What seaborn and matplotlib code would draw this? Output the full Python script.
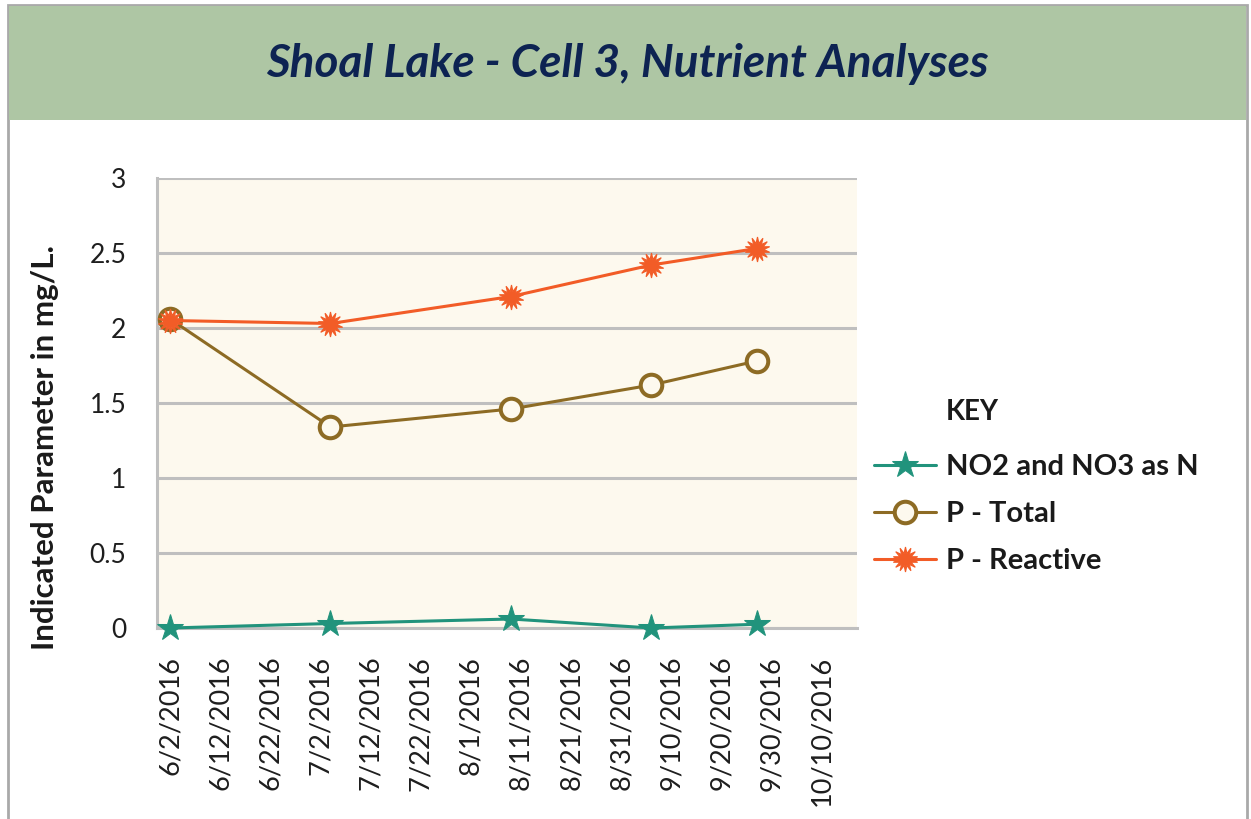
import pandas as pd
import matplotlib
matplotlib.use("Agg")
import matplotlib.pyplot as plt
from matplotlib.patches import Rectangle
import seaborn as sns

# sample dates and values (mg/L)
sample_dates = ["2016-06-02", "2016-07-04", "2016-08-09", "2016-09-06", "2016-09-27"]
no2_no3 = [0.0, 0.03, 0.06, 0.0, 0.025]
p_total = [2.06, 1.34, 1.46, 1.62, 1.78]
p_reactive = [2.05, 2.03, 2.21, 2.42, 2.53]

series_names = ["NO2 and NO3 as N", "P - Total", "P - Reactive"]
y_ticks = [0, 0.5, 1, 1.5, 2, 2.5, 3]
y_tick_labels = ["0", "0.5", "1", "1.5", "2", "2.5", "3"]
tick_start = "2016-06-02"
tick_count = 14
tick_step_days = 10

title = "Shoal Lake - Cell 3, Nutrient Analyses"
y_label = "Indicated Parameter in mg/L."

sns.set_style("white")
plt.rcParams["font.family"] = ["Lato", "DejaVu Sans"]

W, H = 1251, 819
fig = plt.figure(figsize=(W / 100, H / 100), dpi=100)

# outer frame + green title band
fig.patches.append(Rectangle((8 / W, -0.05), (1247 - 8) / W, 1.05 - 5 / H,
                             transform=fig.transFigure, fill=False,
                             edgecolor="#a9a9a9", lw=2, zorder=0))
fig.patches.append(Rectangle((9 / W, 1 - 120 / H), (1246 - 9) / W, (120 - 6) / H,
                             transform=fig.transFigure, facecolor="#aec6a4",
                             edgecolor="none", zorder=1))
fig.text(627 / W, 1 - 64 / H, title, ha="center", va="center",
         fontsize=33, fontweight="bold", fontstyle="italic", color="#0d2352")

ax = fig.add_axes([157 / W, 1 - 628 / H, 700 / W, (628 - 178) / H])
ax.set_facecolor("#fdf9ee")

dates = pd.to_datetime(sample_dates)
styles = [
    dict(color="#21937c", marker="*", markersize=20, markerfacecolor="#21937c",
         markeredgecolor="#21937c"),
    dict(color="#8d6b24", marker="o", markersize=15.5, markerfacecolor="#fdf9ee",
         markeredgecolor="#8d6b24", markeredgewidth=2.9),
    dict(color="#f25c27", marker=(14, 1, 0), markersize=18, markerfacecolor="#f25c27",
         markeredgecolor="#f25c27", markeredgewidth=0.8),
]
for name, vals, st in zip(series_names, [no2_no3, p_total, p_reactive], styles):
    sns.lineplot(x=dates, y=vals, ax=ax, label=name, linewidth=2.2,
                 clip_on=False, zorder=5, **st)

ax.set_ylim(0, 3)
ax.set_yticks(y_ticks)
ax.set_yticklabels(y_tick_labels)

t0 = pd.Timestamp(tick_start)
ticks = [t0 + pd.Timedelta(days=tick_step_days * k) for k in range(tick_count)]
ax.set_xticks(ticks)
ax.set_xticklabels([f"{t.month}/{t.day}/{t.year}" for t in ticks], rotation=90)
ax.set_xlim(t0 - pd.Timedelta(days=2.6), t0 + pd.Timedelta(days=137))

ax.yaxis.grid(True, color="#bfbfbf", linewidth=2.2)
ax.set_axisbelow(True)
for s in ["top", "right"]:
    ax.spines[s].set_visible(False)
for s in ["left", "bottom"]:
    ax.spines[s].set_color("#bfbfbf")
    ax.spines[s].set_linewidth(2.2)
ax.tick_params(axis="both", length=0, labelcolor="#1e1e1e")
ax.tick_params(axis="y", pad=22, labelsize=19)
ax.tick_params(axis="x", pad=20, labelsize=19.5)
ax.set_xlabel("")
ax.set_ylabel("")

fig.text(45 / W, 1 - 448 / H, y_label, rotation=90, ha="center", va="center",
         fontsize=22.5, fontweight="bold", color="#1a1a1a")

fig.text(946 / W, 1 - 412 / H, "KEY", ha="left", va="center",
         fontsize=20, fontweight="bold", color="#1a1a1a")
leg = ax.legend(loc="upper left", bbox_to_anchor=(848 / W, 1 - 428 / H),
                bbox_transform=fig.transFigure, frameon=False,
                handlelength=2.1, handletextpad=0.35, labelspacing=0.72,
                prop=dict(size=21, weight="bold"))
for t in leg.get_texts():
    t.set_color("#1a1a1a")

fig.savefig("out.png", dpi=100)
